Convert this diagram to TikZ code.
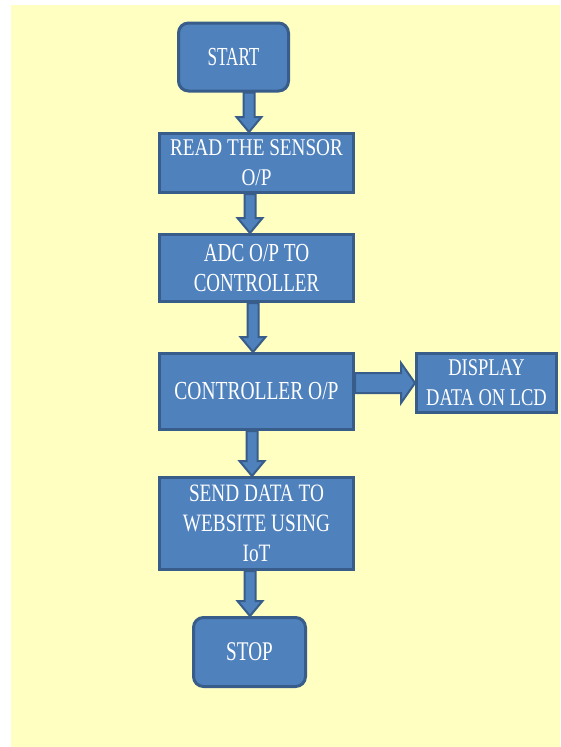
\documentclass[tikz,border=0pt]{standalone}
\usepackage{fontspec}
\usepackage{graphicx}
\setmainfont{Liberation Serif}
\usetikzlibrary{calc}

\definecolor{boxfill}{HTML}{4F81BD}
\definecolor{boxline}{HTML}{385D8A}
\definecolor{paper}{HTML}{FFFFC1}

\pgfdeclarelayer{paperlayer}
\pgfdeclarelayer{arrowlayer}
\pgfsetlayers{paperlayer,arrowlayer,main}

% condensed text line: #1 horizontal factor, #2 text
\newcommand{\sq}[2]{\scalebox{#1}[1]{#2}}
\newcommand{\fs}[1]{\fontsize{#1}{30}\selectfont}

\tikzset{
  stepbox/.style={draw=boxline, fill=boxfill, line width=3pt, text=white,
    align=center, inner sep=0pt, font=\fs{26}},
  termbox/.style={stepbox, rounded corners=10pt},
  blockarr/.style={draw=boxline, fill=boxfill, line width=2pt, line join=miter},
}

% fat downward arrow from #1.south to #2.north along x = #3
\newcommand{\vconn}[3]{%
  \path[blockarr] let \p1=(#1.south), \p2=(#2.north) in
    ({#3-5.5pt},\y1) -- ({#3-5.5pt},{\y2+15pt}) -- ({#3-12.5pt},{\y2+15pt})
    -- (#3,\y2) -- ({#3+12.5pt},{\y2+15pt}) -- ({#3+5.5pt},{\y2+15pt})
    -- ({#3+5.5pt},\y1) -- cycle;
}
% fat rightward arrow from #1.east to #2.west
\newcommand{\hconn}[2]{%
  \path[blockarr] let \p1=(#1.east), \p2=(#2.west) in
    (\x1,{\y2+10pt}) -- ({\x2-14pt},{\y2+10pt}) -- ({\x2-14pt},{\y2+20pt})
    -- (\x2,\y2) -- ({\x2-14pt},{\y2-20pt}) -- ({\x2-14pt},{\y2-10pt})
    -- (\x1,{\y2-10pt}) -- cycle;
}

\begin{document}
\begin{tikzpicture}[x=1pt, y=-1pt]
  \useasboundingbox (0,0) rectangle (560,747);
  \begin{pgfonlayer}{paperlayer}
    \fill[white] (0,0) rectangle (560,747);
    \fill[paper] (11,5) rectangle (560,747);
  \end{pgfonlayer}

  \node[termbox, minimum width=110pt, minimum height=68pt] (start) at (233.5,57)
    {\sq{0.66}{START}};
  \node[stepbox, font=\fs{24}, minimum width=194pt, minimum height=59pt] (read) at (256.5,163)
    {\sq{0.8}{READ THE SENSOR}\\\sq{0.8}{O/P}};
  \node[stepbox, minimum width=194pt, minimum height=67pt] (adc) at (256.5,268)
    {\sq{0.74}{ADC O/P TO}\\\sq{0.73}{CONTROLLER}};
  \node[stepbox, minimum width=194pt, minimum height=76pt] (ctrl) at (256.5,391.5)
    {\sq{0.75}{CONTROLLER O/P}};
  \node[stepbox, font=\fs{24}, minimum width=140pt, minimum height=59pt] (disp) at (486.5,383)
    {\sq{0.77}{DISPLAY}\\\sq{0.77}{DATA ON LCD}};
  \node[stepbox, font=\fs{25}, minimum width=194pt, minimum height=92pt] (send) at (256.5,523.5)
    {\sq{0.77}{SEND DATA TO}\\\sq{0.77}{WEBSITE USING}\\\sq{0.77}{IoT}};
  \node[termbox, font=\fs{27}, minimum width=112pt, minimum height=69pt] (stop) at (249.5,652)
    {\sq{0.71}{STOP}};

  \begin{pgfonlayer}{arrowlayer}
    \vconn{start}{read}{249pt}
    \vconn{read}{adc}{250pt}
    \vconn{adc}{ctrl}{253pt}
    \vconn{ctrl}{send}{252pt}
    \vconn{send}{stop}{250pt}
    \hconn{ctrl}{disp}
  \end{pgfonlayer}
\end{tikzpicture}
\end{document}
